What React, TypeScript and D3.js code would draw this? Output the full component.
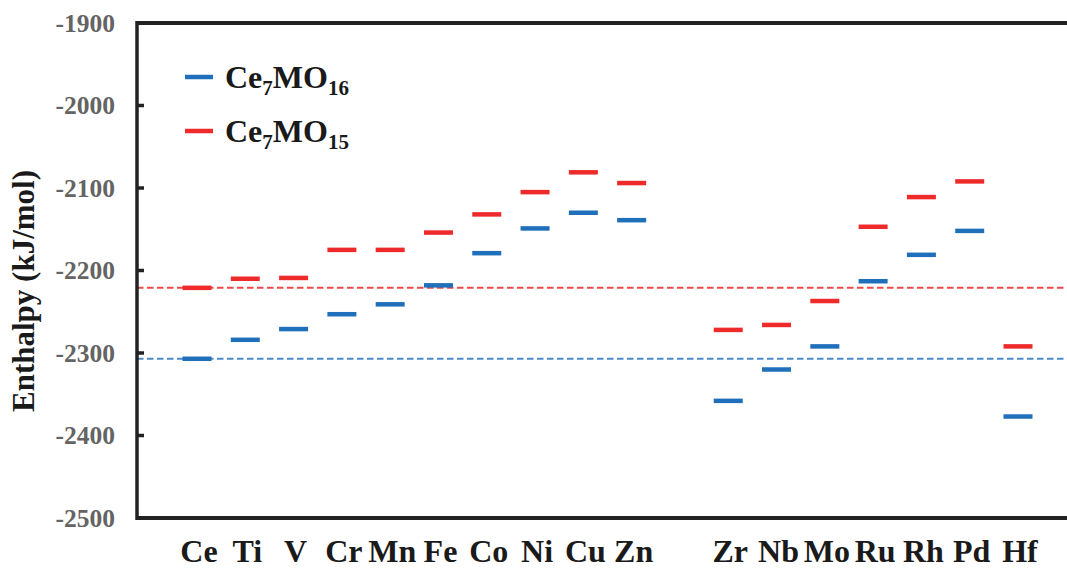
import React from "react";
import * as d3 from "d3";

// Metal dopants, with an empty slot separating the 3d and 4d/5d groups
const metals = ["Ce", "Ti", "V", "Cr", "Mn", "Fe", "Co", "Ni", "Cu", "Zn", "", "Zr", "Nb", "Mo", "Ru", "Rh", "Pd", "Hf"];

// Enthalpy (kJ/mol) of Ce7MO16 (blue) and Ce7MO15 (red); null for the spacer slot
const ce7mo16 = [-2307, -2284, -2271, -2253, -2241, -2218, -2179, -2149, -2130, -2139, null, -2358, -2320, -2292, -2213, -2181, -2152, -2377];
const ce7mo15 = [-2221, -2210, -2209, -2175, -2175, -2154, -2132, -2105, -2081, -2094, null, -2272, -2266, -2237, -2147, -2111, -2092, -2292];

const yTicks = [-1900, -2000, -2100, -2200, -2300, -2400, -2500];

// Reference levels: the undoped Ce values
const refBlue = ce7mo16[0] as number;
const refRed = ce7mo15[0] as number;

const BLUE = "#1f6fba";
const RED = "#ee2a2a";
const FONT = "'Liberation Serif', 'Times New Roman', serif";

export default function App() {
  const W = 1067;
  const H = 569;
  const plotLeft = 137;
  const plotRight = W;
  const plotTop = 23;
  const plotBottom = 518;

  const y = d3.scaleLinear().domain([-2500, -1900]).range([plotBottom, plotTop]);
  const x = d3
    .scalePoint<string>()
    .domain(metals.map((m, i) => m || `gap${i}`))
    .range([plotLeft + 60, plotRight - 49]);

  const key = (i: number) => metals[i] || `gap${i}`;
  const markW = 29;
  const markH = 4.5;

  const marks = (vals: (number | null)[], color: string) =>
    vals.map((v, i) =>
      v == null ? null : (
        <rect
          key={`${color}-${i}`}
          x={(x(key(i)) as number) - markW / 2}
          y={y(v) - markH / 2}
          width={markW}
          height={markH}
          fill={color}
        />
      )
    );

  return (
    <svg
      width={W}
      height={H}
      style={{ position: "absolute", left: 0, top: 0, background: "#fff" }}
      fontFamily={FONT}
      fontWeight="bold"
    >
      {/* dashed reference lines */}
      <line x1={plotLeft} x2={plotRight} y1={y(refRed)} y2={y(refRed)} stroke={RED} strokeWidth={2} strokeDasharray="6.5 3.5" opacity={0.85} />
      <line x1={plotLeft} x2={plotRight} y1={y(refBlue)} y2={y(refBlue)} stroke={BLUE} strokeWidth={2} strokeDasharray="6.5 3.5" opacity={0.8} />

      {marks(ce7mo16, BLUE)}
      {marks(ce7mo15, RED)}

      {/* frame */}
      <line x1={plotLeft} x2={plotRight} y1={plotTop} y2={plotTop} stroke="#222" strokeWidth={4} />
      <line x1={plotLeft} x2={plotRight} y1={plotBottom} y2={plotBottom} stroke="#222" strokeWidth={4} />
      <line x1={plotLeft} x2={plotLeft} y1={plotTop - 2} y2={plotBottom + 2} stroke="#222" strokeWidth={3.5} />

      {/* y ticks and labels */}
      {yTicks.map((t) => (
        <g key={t}>
          <line x1={plotLeft} x2={plotLeft + 7} y1={y(t)} y2={y(t)} stroke="#222" strokeWidth={3.5} />
          <text x={115} y={y(t)} dy="0.35em" textAnchor="end" fontSize={25.5} fill="#646464">
            {t}
          </text>
        </g>
      ))}

      {/* y axis title */}
      <text
        transform={`translate(34, 291) rotate(-90)`}
        textAnchor="middle"
        fontSize={31}
        fill="#1a1a1a"
      >
        Enthalpy (kJ/mol)
      </text>

      {/* category labels */}
      {metals.map((m, i) =>
        m ? (
          <text key={m} x={(x(key(i)) as number) + 2} y={562} textAnchor="middle" fontSize={32} fill="#1a1a1a">
            {m}
          </text>
        ) : null
      )}

      {/* legend */}
      {[
        { color: BLUE, sub: "16", cy: 77 },
        { color: RED, sub: "15", cy: 131 },
      ].map((d) => (
        <g key={d.sub}>
          <rect x={185} y={d.cy - 2.25} width={28} height={4.5} fill={d.color} />
          <text x={225} y={d.cy + 11} fontSize={32} fill="#1a1a1a">
            <tspan>Ce</tspan>
            <tspan fontSize={21} dy={7}>7</tspan>
            <tspan dy={-7}>MO</tspan>
            <tspan fontSize={21} dy={7}>{d.sub}</tspan>
          </text>
        </g>
      ))}
    </svg>
  );
}
